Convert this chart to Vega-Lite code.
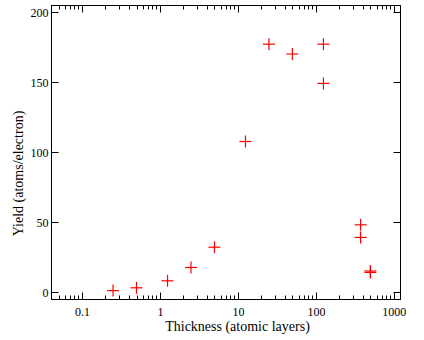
{
  "$schema": "https://vega.github.io/schema/vega-lite/v6.json",
  "autosize": {"type": "none"},
  "width": 349,
  "height": 294,
  "padding": {"left": 51, "top": 5, "right": 24, "bottom": 41},
  "background": "white",
  "config": {
    "view": {"stroke": "black", "strokeWidth": 1},
    "axis": {
      "labelFont": "Liberation Serif",
      "titleFont": "Liberation Serif",
      "labelFontSize": 12,
      "titleFontSize": 14,
      "titleFontWeight": "normal",
      "labelColor": "black",
      "titleColor": "black",
      "domainColor": "black",
      "tickColor": "black",
      "grid": false
    }
  },
  "data": {
    "values": [
      {"thickness": 0.25, "yield": 1},
      {"thickness": 0.5, "yield": 3},
      {"thickness": 1.25, "yield": 8},
      {"thickness": 2.5, "yield": 17.5},
      {"thickness": 5, "yield": 32},
      {"thickness": 12.5, "yield": 107.5},
      {"thickness": 25, "yield": 177},
      {"thickness": 50, "yield": 170},
      {"thickness": 125, "yield": 177},
      {"thickness": 125, "yield": 149},
      {"thickness": 375, "yield": 48},
      {"thickness": 375, "yield": 39},
      {"thickness": 500, "yield": 15},
      {"thickness": 500, "yield": 14}
    ]
  },
  "layer": [
    {
      "mark": {"type": "tick", "orient": "horizontal", "size": 12, "thickness": 1.2, "color": "#ff0000", "opacity": 1},
      "encoding": {
        "x": {
          "field": "thickness", "type": "quantitative",
          "scale": {"type": "log", "domain": [0.04, 1200], "nice": false},
          "axis": {
            "orient": "bottom",
            "title": "Thickness (atomic layers)",
            "titleX": 186, "titleY": 27, "titleAlign": "center", "titleBaseline": "middle",
            "values": [0.05,0.06,0.07,0.08,0.09,0.1,0.2,0.3,0.4,0.5,0.6,0.7,0.8,0.9,1,2,3,4,5,6,7,8,9,10,20,30,40,50,60,70,80,90,100,200,300,400,500,600,700,800,900,1000],
            "labelExpr": "indexof([0.1,1,10,100,1000], datum.value) >= 0 ? datum.value : ''",
            "labelOverlap": false,
            "labelFlush": false,
            "tickSize": {"condition": {"test": "indexof([0.1,1,10,100,1000], datum.value) >= 0", "value": -7}, "value": -4},
            "labelPadding": 14
          }
        },
        "y": {
          "field": "yield", "type": "quantitative",
          "scale": {"domain": [-5, 205], "nice": false, "zero": false},
          "axis": {
            "orient": "left",
            "title": "Yield (atoms/electron)",
            "titleX": -33, "titleY": 168, "titleAlign": "center", "titleBaseline": "middle", "titleAngle": -90,
            "values": [0, 50, 100, 150, 200],
            "tickSize": -7,
            "labelPadding": 10,
            "labelFlush": false
          }
        }
      }
    },
    {
      "mark": {"type": "tick", "orient": "vertical", "size": 12, "thickness": 1.2, "color": "#ff0000", "opacity": 1},
      "encoding": {
        "x": {
          "field": "thickness", "type": "quantitative",
          "axis": {
            "orient": "top",
            "title": null,
            "labels": false,
            "values": [0.05,0.06,0.07,0.08,0.09,0.1,0.2,0.3,0.4,0.5,0.6,0.7,0.8,0.9,1,2,3,4,5,6,7,8,9,10,20,30,40,50,60,70,80,90,100,200,300,400,500,600,700,800,900,1000],
            "tickSize": {"condition": {"test": "indexof([0.1,1,10,100,1000], datum.value) >= 0", "value": -7}, "value": -4}
          }
        },
        "y": {
          "field": "yield", "type": "quantitative",
          "axis": {
            "orient": "right",
            "title": null,
            "labels": false,
            "values": [0, 50, 100, 150, 200],
            "tickSize": -7
          }
        }
      }
    }
  ],
  "resolve": {"axis": {"x": "independent", "y": "independent"}}
}
